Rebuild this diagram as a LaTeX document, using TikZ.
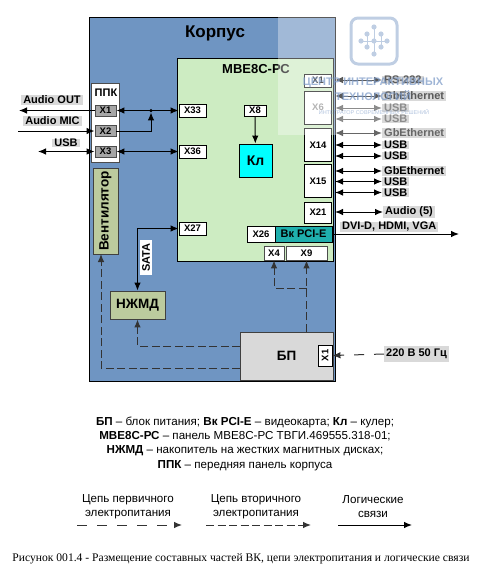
\documentclass[tikz,border=0pt]{standalone}
\usepackage{fontspec}
\setmainfont{Liberation Sans}
\newfontfamily\capfont{Liberation Serif}
\usetikzlibrary{arrows.meta}
\definecolor{corpblue}{HTML}{6F95C2}
\definecolor{panelgreen}{HTML}{CDECC2}
\definecolor{fangreen}{HTML}{BCCB9E}
\definecolor{cardteal}{HTML}{1FAFAD}
\definecolor{fancyan}{HTML}{00FFFF}
\definecolor{tagfill}{HTML}{D9D9D9}
\definecolor{markblue}{HTML}{7F9CC8}
\tikzset{
	>={Latex[length=8pt,width=6.5pt]},
	xbox/.style={draw, fill=white, line width=0.9pt, inner sep=0pt, font=\bfseries\fontsize{9.5}{10}\selectfont},
	xfront/.style={xbox, draw=black!70, fill=black!35, minimum width=21, minimum height=11},
	unit/.style={draw=black!75, line width=0.9pt, inner sep=0pt, font=\bfseries\fontsize{13.5}{14}\selectfont},
	tag/.style={fill=tagfill, inner xsep=2pt, inner ysep=0.5pt, font=\bfseries\fontsize{11}{12}\selectfont},
	link/.style={line width=1pt},
	pwr/.style={line width=1pt, draw=black!80, dash pattern=on 8pt off 3.5pt},
	pwrc/.style={line width=1pt, draw=black!80, dash pattern=on 10pt off 10pt},
	note/.style={align=center, font=\fontsize{11.6}{14.3}\selectfont}
}
\begin{document}
\begin{tikzpicture}[x=1pt, y=-1pt]
	\useasboundingbox (0, 0) rectangle (480, 576);
	\node [draw, fill=corpblue, line width=1.8pt, minimum width=246, minimum height=364] (corp) at (212.5, 199.5) {};
	\node [font=\bfseries\fontsize{17}{18}\selectfont] (corptitle) at (215, 33) {Корпус};
	\node [draw, fill=panelgreen, line width=0.8pt, minimum width=156, minimum height=203] (panel) at (255, 159.5) {};
	\node [font=\bfseries\fontsize{13}{14}\selectfont] (paneltitle) at (256, 69) {МВЕ8С-РС};

	\node [draw=black!70, fill=white, line width=0.9pt, minimum width=28, minimum height=79] (ppk) at (105, 122.5) {};
	\node [font=\bfseries\fontsize{11}{12}\selectfont] (ppktitle) at (106, 93) {ППК};
	\node [xfront] (fx1) at (105.5, 110.5) {X1};
	\node [xfront] (fx2) at (105.5, 131) {X2};
	\node [xfront] (fx3) at (105.5, 151.5) {X3};

	\node [unit, fill=fangreen, minimum width=86, minimum height=25, rotate=90] (fan) at (105.5, 211) {Вентилятор};
	\node [unit, fill=fangreen, minimum width=55, minimum height=28] (hdd) at (137.5, 305) {НЖМД};
	\node [unit, fill=black!15, minimum width=93, minimum height=48] (bp) at (286.5, 356) {БП};
	\node [xbox, minimum width=21, minimum height=14, rotate=90] (bx1) at (325, 355.5) {X1};

	\node [xbox, minimum width=27, minimum height=13] (x33) at (192.5, 110.5) {X33};
	\node [xbox, minimum width=27, minimum height=13] (x36) at (192.5, 151.5) {X36};
	\node [xbox, minimum width=27, minimum height=13] (x27) at (192.5, 228.5) {X27};
	\node [xbox, minimum width=22, minimum height=11] (x8) at (255, 110.5) {X8};
	\node [draw, fill=fancyan, line width=0.9pt, minimum width=33, minimum height=33, font=\bfseries\fontsize{14}{15}\selectfont] (fanc) at (255.5, 160.5) {Кл};

	\node [xbox, minimum width=27, minimum height=13] (x1) at (318, 80.5) {X1};
	\node [xbox, minimum width=27, minimum height=33, text=black!45] (x6) at (318, 107.5) {X6};
	\node [xbox, minimum width=27, minimum height=33] (x14) at (318, 145) {X14};
	\node [xbox, minimum width=27, minimum height=33] (x15) at (318, 181) {X15};
	\node [xbox, minimum width=27, minimum height=21] (x21) at (318, 212.5) {X21};
	\node [xbox, minimum width=28, minimum height=16] (x26) at (261, 234) {X26};
	\node [xbox, fill=cardteal, minimum width=57, minimum height=16, font=\bfseries\fontsize{11}{12}\selectfont] (card) at (303.5, 234) {Вк PCI-E};
	\node [xbox, draw=black!70, minimum width=20, minimum height=14] (x4) at (274, 253) {X4};
	\node [xbox, draw=black!70, minimum width=41, minimum height=14] (x9) at (306.5, 253) {X9};

	\node [tag] (aout) at (52, 100) {Audio OUT};
	\node [tag] (amic) at (52.5, 121) {Audio MIC};
	\node [tag] (usbf) at (66, 143) {USB};
	\coordinate (aoutend) at (19, 110.5);
	\coordinate (amicend) at (18, 131);
	\coordinate (usbend) at (38, 151.5);
	\draw [link, ->] (fx1.west) -- (aoutend);
	\draw [link, ->] (amicend) -- (fx2.west);
	\draw [link, <->] (usbend) -- (fx3.west);
	\draw [link, <->] (fx1.east) -- (x33.west);
	\draw [link, <->] (fx3.east) -- (x36.west);
	\node [circle, fill, inner sep=0pt, minimum size=3.5pt] (join) at (151, 110.5) {};
	\draw [link, ->] (fx2.east) -| (join);
	\draw [link, ->] (x8) -- (fanc);
	\draw [link, <->] (x27.west) -| (hdd.north);
	\node [fill=white, rotate=90, inner xsep=3pt, inner ysep=2pt, font=\bfseries\fontsize{11}{12}\selectfont] (sata) at (146, 257.5) {SATA};

	\foreach \n/\y/\t/\c in {a/80/RS-232/black!65, b/96/GbEthernet/black!65, c/108/USB/black!45, d/119/USB/black!45, e/133/GbEthernet/black!60, f/145/USB/black, g/156/USB/black, h/171/GbEthernet/black, i/181.5/USB/black, j/192.5/USB/black} {
		\coordinate (s\n) at (335, \y);
		\node [tag, anchor=west, text=\c] (t\n) at (382, \y) {\t};
		\draw [link, <->, draw=\c, color=\c] (s\n) -- (t\n.west);
	}
	\coordinate (saudio) at (335, 212);
	\node [tag, anchor=west] (taudio) at (383, 212) {Audio (5)};
	\draw [link, <->] (saudio) -- (taudio.west);
	\node [tag, anchor=west] (tdvi) at (340, 227) {DVI-D, HDMI, VGA};
	\coordinate (dviend) at (459, 234);
	\draw [link, ->] (card.east) -- (dviend);

	\coordinate (bpj) at (306.5, 288);
	\coordinate (bpa) at (240, 346);
	\coordinate (bpb) at (240, 368);
	\coordinate (fanend) at (101, 254);
	\draw [pwr, ->] (x9.south |- bp.north) -- (x9.south);
	\draw [pwr, ->] (bpj) -| (x4.south);
	\draw [pwr, ->] (bpa) -| (hdd.south);
	\draw [pwr, ->] (bpb) -| (fanend);
	\node [tag, anchor=west, inner ysep=3pt] (mains) at (384, 354) {220 В 50 Гц};
	\draw [pwrc, ->] (mains.west) -- (bx1.south);

	\fill [white, opacity=0.35] (278, 16) rectangle (337, 135);
	\draw [markblue!50, line width=3pt, rounded corners=7pt] (351, 18) rectangle (397, 64);
	\draw [markblue!50, line width=1pt] (361, 41) -- (387, 41) (367, 34) -- (367, 47) (381, 34) -- (381, 47) (374, 27) -- (374, 54);
	\foreach \p in {(374,27), (374,41), (374,54), (361,41), (367,34), (367,47), (381,34), (381,47), (387,41)}
		\fill [markblue!50] \p circle (2.6pt);
	\node [text=markblue, opacity=0.75, font=\bfseries\fontsize{11}{12}\selectfont] (mark1) at (373, 83) {ЦЕНТР ИНТЕРАКТИВНЫХ};
	\node [text=markblue, opacity=0.75, font=\bfseries\fontsize{11}{12}\selectfont] (mark2) at (373, 96) {ТЕХНОЛОГИЙ};
	\node [text=markblue, opacity=0.6, font=\fontsize{5.5}{6}\selectfont] (mark3) at (374, 112) {ИНТЕГРАТОР СОВРЕМЕННЫХ РЕШЕНИЙ};

	\node [note] (notes) at (245, 443.5) {\textbf{БП} -- блок питания; \textbf{Вк PCI-E} -- видеокарта; \textbf{Кл} -- кулер;\\\textbf{МВЕ8С-РС} -- панель МВЕ8С-РС ТВГИ.469555.318-01;\\\textbf{НЖМД} -- накопитель на жестких магнитных дисках;\\\textbf{ППК} -- передняя панель корпуса};
	\node [note] (leg1) at (128, 506.5) {Цепь первичного\\электропитания};
	\node [note] (leg2) at (256, 506.5) {Цепь вторичного\\электропитания};
	\node [note] (leg3) at (373, 506.5) {Логические\\связи};
	\coordinate (leg1a) at (77, 525);
	\coordinate (leg1b) at (182, 525);
	\coordinate (leg2a) at (206, 525);
	\coordinate (leg2b) at (311, 525);
	\coordinate (leg3a) at (338, 525);
	\coordinate (leg3b) at (412, 525);
	\draw [pwrc, ->] (leg1a) -- (leg1b);
	\draw [pwr, ->] (leg2a) -- (leg2b);
	\draw [link, ->] (leg3a) -- (leg3b);
	\node [font=\capfont\fontsize{11.6}{12}\selectfont] (caption) at (241, 559) {Рисунок 001.4 - Размещение составных частей ВК, цепи электропитания и логические связи};
\end{tikzpicture}
\end{document}
